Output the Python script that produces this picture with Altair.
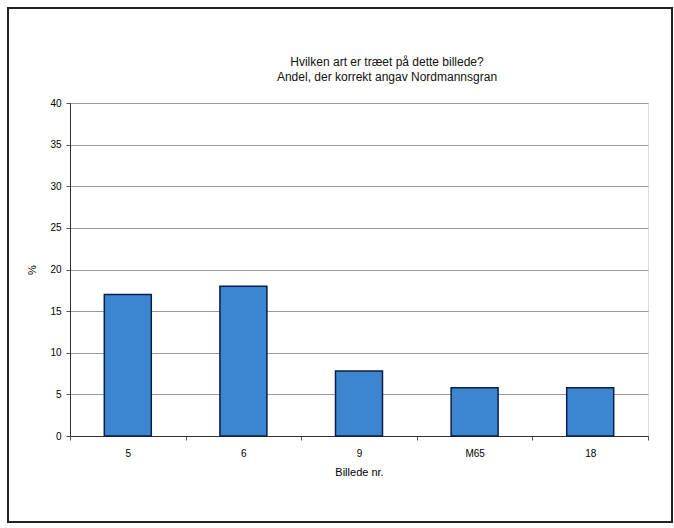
import altair as alt
import pandas as pd

categories = ["5", "6", "9", "M65", "18"]
values = [17.0, 18.0, 7.8, 5.8, 5.8]
y_ticks = [0, 5, 10, 15, 20, 25, 30, 35, 40]
title_lines = ["Hvilken art er træet på dette billede?", "Andel, der korrekt angav Nordmannsgran"]

df = pd.DataFrame({"billede": categories, "andel": values})

FONT = "Liberation Sans"

bars = alt.Chart(df).mark_bar(
    color="#3d86cf", stroke="#0b1d4a", strokeWidth=1.5, size=47
).encode(
    x=alt.X("billede:N", sort=categories, title="Billede nr.",
            scale=alt.Scale(paddingInner=0, paddingOuter=0),
            axis=alt.Axis(labelAngle=0, tickBand="extent", tickSize=4,
                          domainColor="#333", tickColor="#555",
                          labelPadding=8, titlePadding=8, grid=False,
                          titleFontWeight="normal")),
    y=alt.Y("andel:Q", title="%",
            scale=alt.Scale(domain=[0, 40], nice=False),
            axis=alt.Axis(values=y_ticks, tickSize=4, gridColor="#9a9a9a",
                          gridWidth=1, domainColor="#333", tickColor="#555",
                          labelPadding=5, titleAngle=-90, titlePadding=12,
                          titleFontWeight="normal")),
)

border = alt.Chart(pd.DataFrame({"a": [0]})).mark_rect(
    fill=None, stroke="#222", strokeWidth=2, clip=False
).encode(
    x=alt.value(-62), x2=alt.value(602), y=alt.value(-95), y2=alt.value(419)
)

title1 = alt.Chart(pd.DataFrame({"t": [title_lines[0]]})).mark_text(
    font=FONT, fontSize=12, color="#111", align="center", baseline="middle"
).encode(text="t:N", x=alt.value(317), y=alt.value(-41))
title2 = alt.Chart(pd.DataFrame({"t": [title_lines[1]]})).mark_text(
    font=FONT, fontSize=12, color="#111", align="center", baseline="middle"
).encode(text="t:N", x=alt.value(317), y=alt.value(-26))

chart = alt.layer(bars, border, title1, title2).properties(
    width=578, height=333,
    padding={"left": 70, "top": 103, "right": 26, "bottom": 92},
    autosize=alt.AutoSizeParams(type="none"),
).configure_view(
    stroke="#888", strokeWidth=1
).configure_axis(
    labelFont=FONT, titleFont=FONT, labelFontSize=12, titleFontSize=12,
    titleFontWeight="normal", labelColor="#111", titleColor="#111"
).configure(background="white")

chart.save("out.html", embed_options={"renderer": "svg", "actions": False})
